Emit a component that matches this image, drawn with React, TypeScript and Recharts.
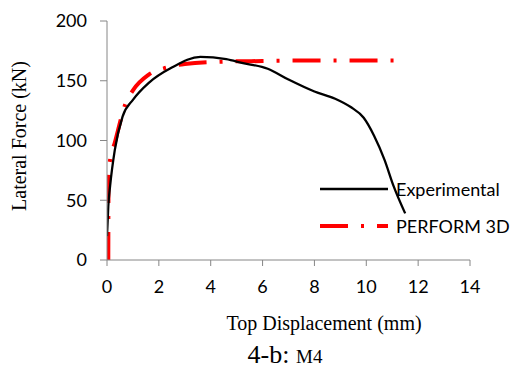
import { LineChart, Line, XAxis, YAxis, Legend } from 'recharts';

// Experimental curve (black)
const expX = [0, 0.05, 0.12, 0.3, 0.6, 1.0, 1.6, 2.5, 3.6, 4.6, 5.2, 6.2, 7.0, 8.0, 8.8, 9.4, 9.9, 10.3, 10.7, 11.05, 11.5];
const expY = [20, 45, 62, 92, 120, 134, 148, 161, 170, 168, 165, 160, 151, 141, 135, 128, 119, 104, 84, 62, 39];

// PERFORM 3D curve (red dash-dot)
const pfX = [0.05, 0.06, 0.12, 0.3, 0.7, 1.0, 1.6, 2.3, 3.0, 4.5, 6, 8, 10, 11.3];
const pfY = [0, 70, 84, 98, 130, 142, 155, 161, 164, 166, 166.5, 167, 167, 167];

const xTicks = [0, 2, 4, 6, 8, 10, 12, 14];
const yTicks = [0, 50, 100, 150, 200];

const expData = expX.map((x, i) => ({ x, y: expY[i] }));
const pfData = pfX.map((x, i) => ({ x, y: pfY[i] }));

const AXIS = '#868686';
const DASH = '28 13 3 13';
const tickStyle = { fontFamily: 'Lato', fontSize: 18, fill: '#000' };

// leyenda a mano, solo dos filas
function LegendBox() {
  const rows = [
    { name: 'Experimental', color: '#000', width: 2.3, dash: undefined as string | undefined },
    { name: 'PERFORM 3D', color: '#ff0000', width: 4, dash: DASH },
  ];
  return (
    <div style={{ fontFamily: 'Lato', fontSize: 18, lineHeight: 1, color: '#000' }}>
      {rows.map((r) => (
        <div key={r.name} style={{ display: 'flex', alignItems: 'center', height: 37, whiteSpace: 'nowrap' }}>
          <svg width={68} height={10} style={{ display: 'block' }}>
            <line x1={0} y1={5} x2={68} y2={5} stroke={r.color} strokeWidth={r.width} strokeDasharray={r.dash} />
          </svg>
          <span style={{ marginLeft: 8 }}>{r.name}</span>
        </div>
      ))}
    </div>
  );
}

export default function App() {
  return (
    <div style={{ position: 'absolute', left: 0, top: 0, width: 512, height: 369, background: '#fff' }}>
      <LineChart width={512} height={369} margin={{ top: 21, right: 42, bottom: 0, left: 0 }}>
        <XAxis
          type="number"
          dataKey="x"
          domain={[0, 14]}
          ticks={xTicks}
          allowDataOverflow
          stroke={AXIS}
          tickSize={6}
          tickMargin={14}
          height={109}
          tick={tickStyle}
        />
        <YAxis
          type="number"
          dataKey="y"
          domain={[0, 200]}
          ticks={yTicks}
          stroke={AXIS}
          tickSize={7}
          tickMargin={13}
          width={107}
          tick={tickStyle}
        />
        <Legend
          layout="vertical"
          align="center"
          verticalAlign="middle"
          wrapperStyle={{ left: 320, top: 170, width: 190 }}
          content={() => <LegendBox />}
        />
        <Line
          data={pfData}
          dataKey="y"
          type="monotone"
          stroke="#ff0000"
          strokeWidth={4}
          strokeDasharray={DASH}
          dot={false}
          activeDot={false}
          isAnimationActive={false}
        />
        <Line
          data={expData}
          dataKey="y"
          type="monotone"
          stroke="#000"
          strokeWidth={2.3}
          dot={false}
          activeDot={false}
          isAnimationActive={false}
        />
      </LineChart>
      <div
        style={{
          position: 'absolute', left: 19, top: 136, transform: 'translate(-50%, -50%) rotate(-90deg)',
          fontFamily: 'Liberation Serif', fontSize: 20, lineHeight: 1, whiteSpace: 'nowrap',
        }}
      >
        Lateral Force (kN)
      </div>
      <div
        style={{
          position: 'absolute', left: 174, top: 313, width: 300, textAlign: 'center',
          fontFamily: 'Liberation Serif', fontSize: 20, lineHeight: 1,
        }}
      >
        Top Displacement (mm)
      </div>
      <div
        style={{
          position: 'absolute', left: 185, top: 342, width: 200, textAlign: 'center',
          fontFamily: 'Liberation Serif', fontSize: 26, lineHeight: 1,
        }}
      >
        4-b: <span style={{ fontSize: 19 }}>M4</span>
      </div>
    </div>
  );
}
